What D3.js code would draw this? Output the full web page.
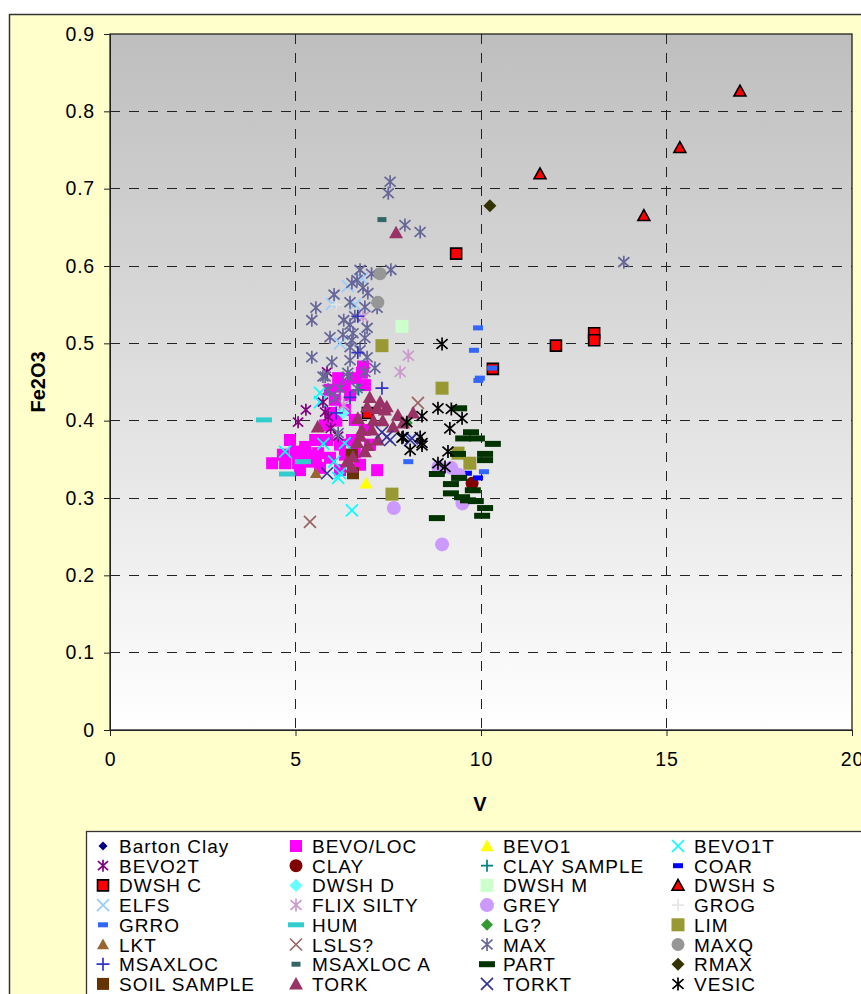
<!DOCTYPE html>
<html>
<head>
<meta charset="utf-8">
<script src="https://cdn.jsdelivr.net/npm/d3@7/dist/d3.min.js"></script>
<style>
body { margin: 0; background: #fff; }
svg { display: block; font-family: "Liberation Sans", Arial, sans-serif; }
</style>
</head>
<body>
<svg id="chart" width="861" height="994"></svg>
<script>
// series data: [V, Fe2O3]
var bartonClay = [[5.88, 0.44]];
var bevoLoc = [[4.37,0.345],[4.72,0.345],[5.07,0.345],[5.42,0.347],[4.85,0.375],[5.26,0.366],[5.61,0.358],
  [5.93,0.352],[6.33,0.356],[6.2,0.369],[5.85,0.375],[6.74,0.343],[7.2,0.336],[6.52,0.375],[6.87,0.388],
  [6.6,0.401],[6.33,0.414],[6.06,0.427],[5.93,0.44],[6.33,0.446],[6.6,0.455],[6.79,0.462],[6.87,0.446],
  [6.47,0.433],[5.8,0.394],[5.12,0.336],[5.66,0.339],[6.2,0.336],[6.6,0.359],[7.01,0.369],[5.53,0.375],
  [4.66,0.356],[6.82,0.47],[6.2,0.444],[5.0,0.36],[5.3,0.355],[5.55,0.35],[5.95,0.41],[6.1,0.4],[6.15,0.455]];
var bevo1 = [[6.9, 0.319]];
var bevo1t = [[4.72,0.36],[6.04,0.347],[6.15,0.326],[6.52,0.284],[6.33,0.371],[6.2,0.332],[5.66,0.424],[5.66,0.436],[5.75,0.37]];
var bevo2t = [[5.07,0.398],[5.28,0.414],[5.85,0.463],[5.74,0.424],[5.88,0.405],[5.8,0.411],[6.15,0.38],[5.95,0.39]];
var clay = [[9.76, 0.319]];
var claySample = [[6.7, 0.44]];
var coar = [[9.92,0.326],[9.62,0.332]];
var dwshC = [[9.33,0.616],[12.02,0.497],[13.05,0.513],[13.05,0.504],[10.32,0.467],[6.95,0.41]];
var dwshD = [[6.28, 0.41]];
var dwshM = [[7.87, 0.522]];
var dwshS = [[11.59,0.719],[15.36,0.753],[16.98,0.826],[14.39,0.665]];
var elfs = [[5.98,0.551],[6.41,0.574],[6.79,0.584],[6.6,0.55],[6.2,0.5]];
var flixSilty = [[8.04,0.484],[7.82,0.463],[6.82,0.534],[6.3,0.42]];
var grey = [[8.95,0.24],[9.5,0.293],[8.85,0.34],[9.2,0.339],[7.65,0.287],[9.4,0.33]];
var grog = [[6.1, 0.55]];
var grro = [[9.92,0.52],[9.81,0.491],[9.97,0.455],[9.93,0.452],[10.3,0.468],[8.04,0.347],[10.08,0.334]];
var hum = [[4.15,0.401],[5.2,0.347],[4.77,0.331]];
var lg = [[8.0, 0.397]];
var lim = [[7.33,0.497],[8.95,0.442],[9.38,0.358],[9.7,0.345],[7.6,0.305]];
var lkt = [[5.55, 0.332]];
var lsls = [[5.39,0.269],[8.3,0.423]];
var max = [[7.55,0.709],[7.5,0.694],[7.95,0.653],[8.36,0.644],[13.85,0.605],[7.57,0.595],[6.74,0.595],
  [6.66,0.582],[6.52,0.578],[6.82,0.572],[6.95,0.565],[6.04,0.563],[5.55,0.546],[5.44,0.53],[6.47,0.553],
  [6.87,0.547],[7.2,0.546],[5.93,0.508],[6.47,0.524],[6.93,0.52],[6.55,0.513],[6.28,0.511],[6.52,0.504],
  [6.47,0.495],[6.74,0.491],[6.93,0.482],[5.44,0.482],[5.98,0.476],[6.47,0.478],[7.14,0.468],[6.41,0.457],
  [5.74,0.457],[6.87,0.463],[5.88,0.44],[6.2,0.442],[6.66,0.442],[6.07,0.429],[6.41,0.462],[6.15,0.384],
  [6.87,0.507],[5.8,0.457],[6.6,0.535],[7.05,0.59],[6.3,0.53]];
var maxq = [[7.28,0.59],[7.22,0.553]];
var msaxloc = [[6.68,0.535],[6.68,0.488],[7.33,0.442],[6.47,0.43],[6.1,0.41]];
var msaxlocA = [[7.33, 0.66]];
var part = [[9.41,0.416],[9.73,0.385],[9.52,0.377],[9.89,0.377],[10.32,0.37],[9.38,0.357],[10.11,0.357],
  [10.11,0.349],[8.81,0.331],[9.41,0.326],[9.19,0.318],[9.78,0.31],[9.19,0.306],[9.49,0.301],[9.65,0.297],
  [9.86,0.296],[10.11,0.287],[10.03,0.277],[8.81,0.274]];
var rmax = [[10.24, 0.678]];
var soilSample = [[6.52,0.356],[6.55,0.332]];
var tork = [[7.71,0.643],[6.93,0.418],[7.2,0.416],[7.41,0.414],[7.76,0.407],[6.68,0.403],[6.79,0.388],
  [7.06,0.388],[6.66,0.372],[6.95,0.368],[7.22,0.375],[7.63,0.392],[7.9,0.397],[6.55,0.353],[6.87,0.36],
  [6.39,0.347],[6.52,0.34],[5.6,0.392],[7.28,0.424],[7.46,0.418],[8.17,0.41],[7.1,0.4],[7.35,0.4],[7.0,0.43],[6.75,0.38]];
var torkt = [[7.33,0.385],[7.46,0.379],[7.55,0.375],[8.09,0.375],[5.85,0.332],[8.14,0.377]];
var vesic = [[8.95,0.499],[8.84,0.416],[8.41,0.406],[9.49,0.403],[9.16,0.39],[8.0,0.398],[8.36,0.379],
  [8.41,0.368],[8.09,0.362],[7.9,0.379],[9.11,0.36],[8.84,0.345],[9.03,0.34],[7.87,0.378],[8.41,0.371],[9.2,0.415]];

var xTicks = [0, 5, 10, 15, 20];
var yTicks = [0, 0.1, 0.2, 0.3, 0.4, 0.5, 0.6, 0.7, 0.8, 0.9];

// series list in legend order, with marker styles
var series = [
  {name: "Barton Clay", data: bartonClay, shape: "diamond", size: 9, fill: "#000080"},
  {name: "BEVO/LOC", data: bevoLoc, shape: "square", size: 12, fill: "#FF00FF"},
  {name: "BEVO1", data: bevo1, shape: "triangle", size: 13, fill: "#FFFF00"},
  {name: "BEVO1T", data: bevo1t, shape: "x", size: 12, stroke: "#00FFFF"},
  {name: "BEVO2T", data: bevo2t, shape: "star", size: 12, stroke: "#800080"},
  {name: "CLAY", data: clay, shape: "circle", size: 13, fill: "#800000"},
  {name: "CLAY SAMPLE", data: claySample, shape: "plus", size: 12, stroke: "#008080"},
  {name: "COAR", data: coar, shape: "dash", size: 10, h: 5, fill: "#0000FF"},
  {name: "DWSH C", data: dwshC, shape: "square", size: 11, fill: "#FF0000", edge: "#000"},
  {name: "DWSH D", data: dwshD, shape: "diamond", size: 13, fill: "#66FFFF"},
  {name: "DWSH M", data: dwshM, shape: "square", size: 13, fill: "#CCFFCC"},
  {name: "DWSH S", data: dwshS, shape: "triangle", size: 12, fill: "#FF0000", edge: "#000"},
  {name: "ELFS", data: elfs, shape: "x", size: 12, stroke: "#99CCFF"},
  {name: "FLIX SILTY", data: flixSilty, shape: "star", size: 13, stroke: "#CC99CC"},
  {name: "GREY", data: grey, shape: "circle", size: 14, fill: "#CC99FF"},
  {name: "GROG", data: grog, shape: "plus", size: 12, stroke: "#E6E6E6"},
  {name: "GRRO", data: grro, shape: "dash", size: 10, h: 5, fill: "#3366FF"},
  {name: "HUM", data: hum, shape: "dash", size: 16, h: 5, fill: "#33CCCC"},
  {name: "LG?", data: lg, shape: "diamond", size: 12, fill: "#339933"},
  {name: "LIM", data: lim, shape: "square", size: 13, fill: "#999933"},
  {name: "LKT", data: lkt, shape: "triangle", size: 12, fill: "#996633"},
  {name: "LSLS?", data: lsls, shape: "x", size: 12, stroke: "#996666"},
  {name: "MAX", data: max, shape: "star", size: 13, stroke: "#666699"},
  {name: "MAXQ", data: maxq, shape: "circle", size: 13, fill: "#969696"},
  {name: "MSAXLOC", data: msaxloc, shape: "plus", size: 13, stroke: "#3333CC"},
  {name: "MSAXLOC A", data: msaxlocA, shape: "dash", size: 9, h: 5, fill: "#336666"},
  {name: "PART", data: part, shape: "dash", size: 16, h: 6, fill: "#003300"},
  {name: "RMAX", data: rmax, shape: "diamond", size: 13, fill: "#333300"},
  {name: "SOIL SAMPLE", data: soilSample, shape: "square", size: 12, fill: "#663300"},
  {name: "TORK", data: tork, shape: "triangle", size: 14, fill: "#993366"},
  {name: "TORKT", data: torkt, shape: "x", size: 12, stroke: "#333399"},
  {name: "VESIC", data: vesic, shape: "star", size: 13, stroke: "#000000"}
];

function markerPath(s) {
  var h = s.size / 2;
  switch (s.shape) {
    case "square": return "M" + (-h) + "," + (-h) + "h" + s.size + "v" + s.size + "h" + (-s.size) + "Z";
    case "diamond": return "M0," + (-h) + "L" + h + ",0L0," + h + "L" + (-h) + ",0Z";
    case "triangle": return "M0," + (-h) + "L" + h + "," + (h * 0.8) + "L" + (-h) + "," + (h * 0.8) + "Z";
    case "circle": return d3.symbol(d3.symbolCircle, Math.PI * h * h)();
    case "x": return "M" + (-h) + "," + (-h) + "L" + h + "," + h + "M" + (-h) + "," + h + "L" + h + "," + (-h);
    case "plus": return "M" + (-h) + ",0H" + h + "M0," + (-h) + "V" + h;
    case "star": return "M" + (-h * 0.85) + "," + (-h * 0.75) + "L" + (h * 0.85) + "," + (h * 0.75) +
      "M" + (-h * 0.85) + "," + (h * 0.75) + "L" + (h * 0.85) + "," + (-h * 0.75) + "M0," + (-h) + "V" + h;
    case "dash": var hh = s.h / 2; return "M" + (-h) + "," + (-hh) + "h" + s.size + "v" + s.h + "h" + (-s.size) + "Z";
  }
}

function styleMarker(sel, s) {
  if (s.stroke) {
    sel.attr("fill", "none").attr("stroke", s.stroke).attr("stroke-width", 1.7);
  } else {
    sel.attr("fill", s.fill)
      .attr("stroke", s.edge || "none")
      .attr("stroke-width", s.edge ? 1.6 : 0);
  }
}

var svg = d3.select("#chart");

// chart area
svg.append("rect").attr("x", 9.5).attr("y", 14.5).attr("width", 1000).attr("height", 1100)
  .attr("fill", "#FFFFCC").attr("stroke", "#333").attr("stroke-width", 1.5);

var x = d3.scaleLinear().domain([0, 20]).range([110, 852]);
var y = d3.scaleLinear().domain([0, 0.9]).range([730, 34]);

var defs = svg.append("defs");
var grad = defs.append("linearGradient").attr("id", "bg").attr("x1", 0).attr("y1", 0).attr("x2", 0).attr("y2", 1);
grad.append("stop").attr("offset", "0%").attr("stop-color", "#BEBEBE");
grad.append("stop").attr("offset", "100%").attr("stop-color", "#FFFFFF");

svg.append("rect").attr("x", x(0)).attr("y", y(0.9)).attr("width", x(20) - x(0)).attr("height", y(0) - y(0.9))
  .attr("fill", "url(#bg)");

// grid
svg.append("g").selectAll("line").data(yTicks.slice(1, -1)).join("line")
  .attr("x1", x(0)).attr("x2", x(20)).attr("y1", function(d){ return y(d); }).attr("y2", function(d){ return y(d); })
  .attr("stroke", "#222").attr("stroke-dasharray", "10,9").attr("shape-rendering", "crispEdges");
svg.append("g").selectAll("line").data(xTicks.slice(1, -1)).join("line")
  .attr("y1", y(0.9)).attr("y2", y(0)).attr("x1", function(d){ return x(d); }).attr("x2", function(d){ return x(d); })
  .attr("stroke", "#222").attr("stroke-dasharray", "10,9").attr("shape-rendering", "crispEdges");

svg.append("rect").attr("x", x(0)).attr("y", y(0.9)).attr("width", x(20) - x(0)).attr("height", y(0) - y(0.9))
  .attr("fill", "none").attr("stroke", "#222").attr("stroke-width", 1.3);

// axes
var yAxis = svg.append("g").attr("transform", "translate(" + x(0) + ",0)")
  .call(d3.axisLeft(y).tickValues(yTicks).tickFormat(function(d){ return d === 0 ? "0" : d3.format(".1f")(d); })
    .tickSize(6).tickPadding(9).tickSizeOuter(0));
var xAxis = svg.append("g").attr("transform", "translate(0," + y(0) + ")")
  .call(d3.axisBottom(x).tickValues(xTicks).tickSize(6).tickPadding(16).tickSizeOuter(0));
[xAxis, yAxis].forEach(function(a) {
  a.select(".domain").attr("stroke", "#222");
  a.selectAll(".tick line").attr("stroke", "#222");
  a.selectAll("text").attr("font-size", 19.5).attr("letter-spacing", "0.8px").attr("fill", "#000")
    .attr("font-family", "Liberation Sans, Arial, sans-serif");
});

svg.append("text").attr("x", 480).attr("y", 811).attr("text-anchor", "middle")
  .attr("font-size", 20).attr("font-weight", "bold").text("V");
svg.append("text").attr("transform", "translate(45,382) rotate(-90)").attr("text-anchor", "middle")
  .attr("font-size", 20).attr("font-weight", "bold").text("Fe2O3");

// points
series.forEach(function(s) {
  var p = markerPath(s);
  svg.append("g").selectAll("path").data(s.data).join("path")
    .attr("d", p)
    .attr("transform", function(d){ return "translate(" + x(d[0]) + "," + y(d[1]) + ")"; })
    .call(styleMarker, s);
});

// legend
svg.append("rect").attr("x", 86.5).attr("y", 831.5).attr("width", 900).attr("height", 300)
  .attr("fill", "#fff").attr("stroke", "#333").attr("stroke-width", 1.3);
var colX = [103, 296, 487, 678];
var leg = svg.append("g").selectAll("g").data(series).join("g")
  .attr("transform", function(d, i){ return "translate(" + colX[i % 4] + "," + (846 + Math.floor(i / 4) * 19.7) + ")"; });
leg.append("path").attr("d", function(d){ return markerPath(d); }).each(function(d){ d3.select(this).call(styleMarker, d); });
leg.append("text").attr("x", 16).attr("y", 7).attr("font-size", 19).attr("letter-spacing", "1px")
  .text(function(d){ return d.name; });
</script>
</body>
</html>
